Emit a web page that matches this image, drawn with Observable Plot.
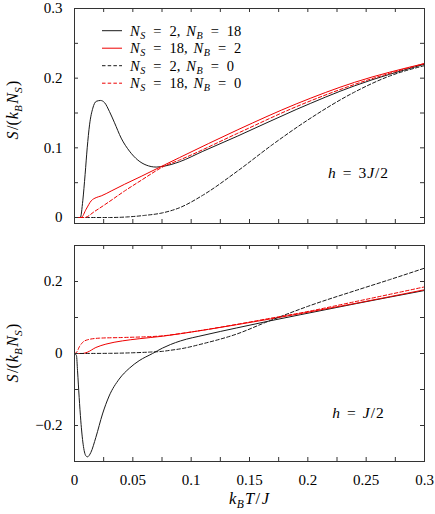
<!DOCTYPE html>
<html><head><meta charset="utf-8">
<script src="https://cdn.jsdelivr.net/npm/d3@7"></script>
<script src="https://cdn.jsdelivr.net/npm/@observablehq/plot@0.6"></script>
<style>body{margin:0;background:#fff} #chart svg{display:block}</style>
</head><body><div id="chart"></div>
<script>
// ---------- data: top panel, h = 3J/2 ----------
const topX_2_18 = [0, 0.005, 0.0071, 0.0091, 0.0109, 0.0129, 0.0157, 0.0186, 0.0223, 0.0257, 0.030, 0.0343, 0.040, 0.0471, 0.0543, 0.0614, 0.070, 0.0771, 0.09, 0.11, 0.14, 0.19, 0.24, 0.3];
const topY_2_18 = [0, 0, 0.024, 0.062, 0.100, 0.133, 0.157, 0.1667, 0.168, 0.165, 0.152, 0.136, 0.114, 0.0953, 0.0824, 0.0753, 0.0724, 0.0738, 0.080, 0.095, 0.117, 0.155, 0.189, 0.22];
const topX_18_2 = [0, 0.0057, 0.010, 0.0143, 0.0186, 0.0229, 0.0314, 0.0429, 0.0571, 0.0771, 0.09, 0.14, 0.19, 0.24, 0.3];
const topY_18_2 = [0, 0, 0.012, 0.0239, 0.0286, 0.031, 0.038, 0.0477, 0.059, 0.0755, 0.086, 0.126, 0.163, 0.194, 0.221];
const topX_2_0 = [0, 0.03, 0.045, 0.06, 0.075, 0.09, 0.11, 0.14, 0.17, 0.2, 0.24, 0.27, 0.3];
const topY_2_0 = [0, 0, 0.0008, 0.003, 0.0065, 0.014, 0.032, 0.067, 0.105, 0.14, 0.18, 0.203, 0.218];
const topX_18_0 = [0, 0.0086, 0.0171, 0.0286, 0.0429, 0.0571, 0.0771, 0.09, 0.14, 0.19, 0.24, 0.3];
const topY_18_0 = [0, 0, 0.0086, 0.0214, 0.038, 0.0533, 0.0738, 0.0825, 0.121, 0.159, 0.191, 0.221];

// ---------- data: bottom panel, h = J/2 ----------
const botX_2_18 = [0, 0.0017, 0.0026, 0.004, 0.0054, 0.0074, 0.0097, 0.0111, 0.014, 0.0183, 0.024, 0.0297, 0.0383, 0.047, 0.0554, 0.0669, 0.0754, 0.0823, 0.0909, 0.111, 0.139, 0.168, 0.194, 0.242, 0.3];
const botY_2_18 = [0, -0.006, -0.048, -0.122, -0.187, -0.252, -0.284, -0.287, -0.275, -0.233, -0.168, -0.118, -0.071, -0.041, -0.020, 0, 0.015, 0.025, 0.035, 0.051, 0.071, 0.091, 0.108, 0.139, 0.175];
const botX_18_2 = [0, 0.0069, 0.0111, 0.0183, 0.0269, 0.041, 0.0554, 0.0754, 0.0909, 0.139, 0.168, 0.194, 0.242, 0.3];
const botY_18_2 = [0, 0, 0.0037, 0.0167, 0.026, 0.035, 0.041, 0.048, 0.055, 0.08, 0.096, 0.111, 0.14, 0.177];
const botX_2_0 = [0, 0.03, 0.05, 0.065, 0.0754, 0.0823, 0.0909, 0.111, 0.139, 0.165, 0.185, 0.2, 0.242, 0.27, 0.3];
const botY_2_0 = [0, 0.0005, 0.002, 0.004, 0.006, 0.009, 0.013, 0.028, 0.054, 0.088, 0.113, 0.131, 0.176, 0.205, 0.237];
const botX_18_0 = [0, 0.002, 0.004, 0.0069, 0.0111, 0.0211, 0.041, 0.0754, 0.0909, 0.139, 0.168, 0.194, 0.242, 0.3];
const botY_18_0 = [0, 0.004, 0.0176, 0.0306, 0.038, 0.0426, 0.0444, 0.049, 0.0555, 0.081, 0.098, 0.113, 0.145, 0.185];

// ---------- ticks ----------
const xTicksMinor = [0, 0.025, 0.05, 0.075, 0.1, 0.125, 0.15, 0.175, 0.2, 0.225, 0.25, 0.275, 0.3];
const xTickLabels = [0, 0.05, 0.1, 0.15, 0.2, 0.25, 0.3];
const topYTicks = [0, 0.05, 0.1, 0.15, 0.2, 0.25, 0.3];
const topYLabels = [0, 0.1, 0.2, 0.3];
const botYTicks = [-0.3, -0.2, -0.1, 0, 0.1, 0.2, 0.3];
const botYLabels = [-0.2, 0, 0.2];

// series styles
const seriesKeys = ["2_18", "18_2", "2_0", "18_0"];
const seriesLegend = [["2", "18"], ["18", "2"], ["2", "0"], ["18", "0"]];
const BLACK = "#1a1a1a", RED = "#ee0000";
const seriesStyle = {
  "2_18": {stroke: BLACK, dash: null},
  "18_2": {stroke: RED, dash: null},
  "2_0": {stroke: BLACK, dash: "3.5,2.2"},
  "18_0": {stroke: RED, dash: "3.5,2.2"}
};

const FONT = "'Liberation Serif', 'DejaVu Serif', serif";
const FS = 15;
const W = 435, ML = 74, MR = 11;

function rows(xs, ys) { return xs.map((x, i) => ({x, y: ys[i]})); }
const fmt = d => d === 0 ? "0" : String(d).replace("-", "\u2212");

function panel({height, marginTop, marginBottom, yDomain, yTicks, yLabels, xLabels, series}) {
  const fw = W - ML - MR, fh = height - marginTop - marginBottom;
  const marks = [];
  for (const k of seriesKeys) {
    const st = seriesStyle[k];
    marks.push(Plot.line(series[k], {x: "x", y: "y", stroke: st.stroke, strokeWidth: 1, strokeDasharray: st.dash, curve: "monotone-x"}));
  }
  const tc = "#333";
  marks.push(
    Plot.tickX(xTicksMinor, {x: d => d, insetBottom: fh - 4, stroke: tc}),
    Plot.tickX(xTicksMinor, {x: d => d, insetTop: fh - 4, stroke: tc}),
    Plot.tickY(yTicks, {y: d => d, insetRight: fw - 4, stroke: tc}),
    Plot.tickY(yTicks, {y: d => d, insetLeft: fw - 4, stroke: tc}),
    Plot.frame({stroke: tc, strokeWidth: 1}),
    Plot.axisY(yLabels, {tickSize: 0, tickPadding: 12, tickFormat: fmt, label: null})
  );
  if (xLabels) marks.push(Plot.axisX(xLabels, {tickSize: 0, tickPadding: 13, tickFormat: fmt, label: null}));
  return Plot.plot({
    width: W, height, marginLeft: ML, marginRight: MR, marginTop, marginBottom,
    x: {domain: [0, 0.3], axis: xLabels ? undefined : null},
    y: {domain: yDomain},
    style: {fontFamily: FONT, fontSize: FS + "px", background: "white", color: "#000", overflow: "visible"},
    marks
  });
}

// math text helper
const I = (t, dx) => ({t, i: true, dx});
const R = (t, dx) => ({t, dx});
const Sb = (t, dx) => ({t, i: true, sub: true, dx});
function mathText(parent, x, y, segs, {anchor = "start", rotate = 0, size = FS} = {}) {
  const t = parent.append("text")
    .attr("transform", `translate(${x},${y}) rotate(${rotate})`)
    .attr("text-anchor", anchor)
    .style("font-family", FONT).attr("font-size", size).attr("fill", "#000");
  let shift = 0;
  for (const s of segs) {
    const sp = t.append("tspan").text(s.t);
    if (s.i) sp.attr("font-style", "italic");
    const target = s.sub ? size * 0.22 : 0;
    if (target !== shift) { sp.attr("dy", target - shift); shift = target; }
    if (s.sub) sp.attr("font-size", size * 0.7);
    if (s.dx) sp.attr("dx", s.dx);
  }
  return t;
}
const yLabelSegs = [I("S"), R("/(", 1.5), I("k", 1), Sb("B"), I("N", 1.5), Sb("S"), R(")", 1.5)];

const topSeries = {
  "2_18": rows(topX_2_18, topY_2_18), "18_2": rows(topX_18_2, topY_18_2),
  "2_0": rows(topX_2_0, topY_2_0), "18_0": rows(topX_18_0, topY_18_0)
};
const botSeries = {
  "2_18": rows(botX_2_18, botY_2_18), "18_2": rows(botX_18_2, botY_18_2),
  "2_0": rows(botX_2_0, botY_2_0), "18_0": rows(botX_18_0, botY_18_0)
};

const topPlot = panel({height: 235, marginTop: 8, marginBottom: 12, yDomain: [-0.0086, 0.3], yTicks: topYTicks, yLabels: topYLabels, xLabels: null, series: topSeries});
const botPlot = panel({height: 279, marginTop: 10, marginBottom: 18 + 35, yDomain: [-0.3, 0.3], yTicks: botYTicks, yLabels: botYLabels, xLabels: xTickLabels, series: botSeries});

const chart = document.getElementById("chart");
chart.append(topPlot, botPlot);

// top panel decorations
const ts = d3.select(topPlot);
const lg = ts.append("g");
seriesKeys.forEach((k, i) => {
  const y = 30.7 + 17.5 * i;
  const st = seriesStyle[k];
  lg.append("line").attr("x1", 102).attr("x2", 122).attr("y1", y).attr("y2", y)
    .attr("stroke", st.stroke).attr("stroke-width", 1).attr("stroke-dasharray", st.dash);
  const [ns, nb] = seriesLegend[i];
  mathText(lg, 130, y + 4.8, [I("N"), Sb("S", 0.5), R("=", 8), R(ns, 8), R(","), I("N", 6), Sb("B", 0.5), R("=", 8), R(nb, 8)], {size: 14.5});
});
mathText(ts, 358, 178, [I("h"), R("=", 7), R("3", 7), I("J", 1), R("/", 1), R("2", 1)], {anchor: "middle", size: 15.5});
mathText(ts, 18, 110, yLabelSegs, {anchor: "middle", rotate: -90, size: 16});

// bottom panel decorations
const bs = d3.select(botPlot);
mathText(bs, 358, 413 - 235 + 5, [I("h"), R("=", 7), I("J", 7), R("/", 1), R("2", 1)], {anchor: "middle", size: 15.5});
mathText(bs, 18, 353 - 235, yLabelSegs, {anchor: "middle", rotate: -90, size: 16});
mathText(bs, 249, 504 - 235, [I("k"), Sb("B", 0.5), I("T", 1), R("/", 1.5), I("J", 1.5)], {anchor: "middle", size: 16.5});
</script></body></html>
